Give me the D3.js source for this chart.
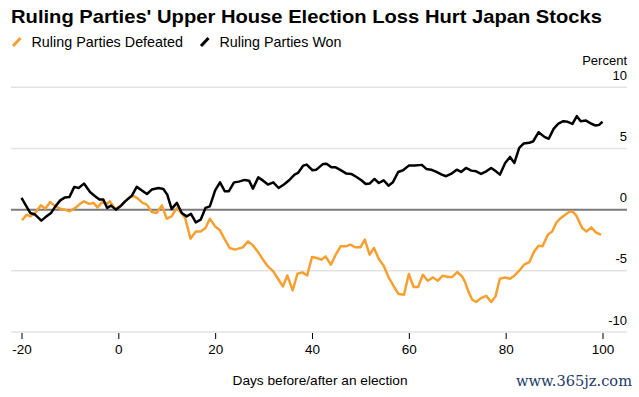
<!DOCTYPE html>
<html>
<head>
<meta charset="utf-8">
<script src="https://cdn.jsdelivr.net/npm/d3@7"></script>
<style>
  body { margin: 0; background: #fff; }
  svg { display: block; font-family: "Liberation Sans", Arial, sans-serif; }
</style>
</head>
<body>
<svg id="chart" width="639" height="397"></svg>
<script>
// Cumulative change in percent, days before/after the election
const wonDays = [-20, -18.2, -17.2, -15.9, -15.1, -13.9, -13, -12, -11, -10.1, -9.1, -8.2, -7.1, -5.8, -4.8, -3.9, -3.1, -2.3, -1.5, -0.5,
  0.4, 1.4, 2.8, 3.8, 4.8, 5.9, 6.9, 8.3, 9.3, 10.1, 11, 12.1, 13.1, 14.1, 15, 16, 17, 18, 18.9, 20,
  21, 22, 22.8, 23.9, 24.9, 26.1, 27, 27.8, 28.9, 29.9, 30.9, 32, 33.1, 34.2, 35.4, 36.4, 37.1, 38.2, 38.9, 40.1,
  40.9, 42.3, 43, 44, 44.9, 46.1, 47.1, 48.1, 49.2, 50.2, 51.1, 51.9, 52.9, 53.8, 54.8, 55.8, 56.7, 57.8, 58.8, 60,
  61.2, 62.7, 63.6, 64.6, 65.7, 66.8, 67.7, 68.7, 69.9, 70.8, 71.8, 72.9, 73.9, 74.9, 76, 77, 78, 78.8, 79.9, 80.9,
  81.8, 82.8, 83.7, 84.9, 85.7, 86.8, 88, 88.9, 89.9, 90.9, 91.9, 92.8, 93.8, 94.7, 95.5, 96.6, 97.6, 98.6, 99.3, 100];
const wonValues = [0.96, -0.27, -0.4, -0.9, -0.63, -0.27, 0.27, 0.76, 1.0, 1.04, 1.86, 1.77, 2.13, 1.42, 1.09, 0.82, 0.82, 0.14, 0.33, 0.0,
  0.27, 0.68, 1.15, 1.86, 1.58, 1.28, 1.64, 1.77, 1.69, 1.23, 0.06, 0.55, -0.27, -0.55, -0.35, -1.04, -0.82, 0.14, 0.27, 1.58,
  2.23, 1.5, 1.5, 2.23, 2.29, 2.43, 2.37, 1.72, 2.64, 2.37, 2.05, 2.23, 1.77, 2.05, 2.45, 2.86, 3.0, 3.6, 3.68, 3.22,
  3.27, 3.74, 3.76, 3.46, 3.46, 3.19, 2.95, 2.92, 2.67, 2.4, 2.1, 2.13, 2.51, 2.18, 2.4, 1.96, 2.23, 3.08, 3.22, 3.6,
  3.6, 3.66, 3.33, 3.27, 3.08, 2.86, 2.73, 2.92, 3.27, 3.08, 3.41, 3.19, 3.13, 2.92, 3.13, 3.41, 3.13, 2.86, 3.82, 4.31,
  3.82, 5.05, 5.4, 5.46, 5.59, 6.33, 5.95, 5.79, 6.6, 7.04, 7.23, 7.18, 7.01, 7.64, 7.23, 7.28, 7.04, 6.87, 6.93, 7.18];

const defeatedDays = [-19.9, -18.9, -18.2, -17.2, -16, -15.1, -14.1, -13, -12, -11, -10.1, -8.9, -7.9, -7.1, -6, -5.1, -4.3, -3.4, -2.4, -1.7,
  -0.7, 0.4, 1.4, 2.4, 3.3, 4.1, 5, 5.9, 6.9, 7.9, 9, 10, 11, 12.1, 12.9, 13.8, 14.9, 16, 17, 18,
  18.9, 20, 21, 22, 23, 24.1, 25.7, 26.8, 27.8, 28.9, 29.9, 30.9, 32, 33, 34, 34.9, 36, 37, 38, 39,
  40, 41, 41.9, 42.8, 43.9, 44.9, 45.9, 47, 47.9, 49, 50, 50.9, 51.9, 52.8, 53.8, 54.8, 55.8, 56.9, 57.9, 59,
  60, 61, 61.9, 62.9, 63.9, 65, 66, 67, 68.1, 68.9, 70, 71, 71.6, 72.3, 73.1, 73.9, 74.9, 76, 77, 77.9,
  78.8, 79.9, 80.9, 81.8, 82.8, 83.8, 84.9, 85.9, 86.8, 87.6, 88.7, 89.6, 90.5, 91.4, 92.3, 93.1, 93.8, 94.6, 95.8, 96.7,
  97.7, 98.6, 99.7];
const defeatedValues = [-0.87, -0.41, -0.55, -0.27, 0.35, 0.08, 0.63, 0.27, 0.08, 0.0, -0.14, 0.14, 0.47, 0.68, 0.47, 0.55, 0.19, 0.6, 0.47, 0.68,
  0.06, 0.27, 0.68, 1.04, 1.09, 0.88, 0.55, 0.41, -0.19, -0.27, 0.35, -0.74, -0.55, 0.14, -0.22, -0.68, -2.37, -1.78, -1.78, -1.5,
  -0.74, -1.37, -1.69, -2.45, -3.13, -3.27, -3.08, -2.59, -2.92, -3.49, -4.09, -4.64, -5.05, -5.67, -6.28, -5.38, -6.6, -5.24, -5.13, -5.38,
  -3.87, -3.95, -4.09, -3.82, -4.5, -3.68, -3.0, -3.0, -2.86, -3.08, -3.08, -2.45, -3.68, -3.13, -4.03, -4.58, -5.51, -6.28, -6.9, -6.96,
  -5.26, -6.33, -6.33, -5.32, -5.81, -5.54, -5.81, -5.4, -5.51, -5.51, -5.1, -5.46, -5.9, -6.7, -7.36, -7.55, -7.23, -7.04, -7.55, -7.09,
  -5.65, -5.54, -5.65, -5.4, -4.99, -4.5, -4.28, -3.41, -2.95, -3.0, -2.05, -1.78, -1.04, -0.68, -0.41, -0.19, -0.14, -0.49, -1.5, -1.78,
  -1.45, -1.86, -2.05];

const yTicks = [10, 5, 0, -5, -10];
const xTicks = [-20, 0, 20, 40, 60, 80, 100];

const svg = d3.select('#chart');

const x = d3.scaleLinear().domain([-20, 100]).range([21.5, 602.5]);
const y = d3.scaleLinear().domain([-10, 10]).range([332, 87.3]);

const GRID_LEFT = 11, GRID_RIGHT = 627;
const ORANGE = '#f7a031';

// --- title & legend ---
svg.append('text')
  .attr('x', 11).attr('y', 23)
  .attr('font-size', 19).attr('font-weight', 'bold')
  .attr('textLength', 591).attr('lengthAdjust', 'spacingAndGlyphs')
  .text("Ruling Parties' Upper House Election Loss Hurt Japan Stocks");

const legend = [
  { label: 'Ruling Parties Defeated', color: ORANGE, x: 13, w: 151.5 },
  { label: 'Ruling Parties Won', color: '#000', x: 201, w: 122 }
];
legend.forEach(l => {
  svg.append('line')
    .attr('x1', l.x).attr('y1', 46).attr('x2', l.x + 7.5).attr('y2', 38)
    .attr('stroke', l.color).attr('stroke-width', 3);
  svg.append('text')
    .attr('x', l.x + 18.5).attr('y', 47)
    .attr('font-size', 15)
    .attr('textLength', l.w).attr('lengthAdjust', 'spacingAndGlyphs')
    .text(l.label);
});

// --- y grid & labels ---
svg.append('text')
  .attr('x', GRID_RIGHT).attr('y', 65)
  .attr('text-anchor', 'end').attr('font-size', 13)
  .text('Percent');

yTicks.forEach(t => {
  svg.append('line')
    .attr('x1', GRID_LEFT).attr('x2', GRID_RIGHT)
    .attr('y1', y(t)).attr('y2', y(t))
    .attr('stroke', t === 0 ? '#7a7a7a' : '#e3e3e3')
    .attr('stroke-width', t === 0 ? 2 : 1.5);
  svg.append('text')
    .attr('x', GRID_RIGHT).attr('y', y(t) - 7.5)
    .attr('text-anchor', 'end').attr('font-size', 13)
    .text(t);
});

// --- x axis ---
const xAxis = svg.append('g')
  .attr('transform', `translate(0,${y(-10) + 1})`)
  .call(d3.axisBottom(x).tickValues(xTicks).tickSize(6).tickPadding(5).tickFormat(d => String(d)));
xAxis.select('.domain').remove();
xAxis.selectAll('line').attr('stroke', '#000').attr('stroke-width', 1);
xAxis.selectAll('text')
  .attr('font-size', 13.5).attr('font-family', '"Liberation Sans", Arial, sans-serif')
  .attr('fill', '#000');

svg.append('text')
  .attr('x', 320).attr('y', 385)
  .attr('text-anchor', 'middle').attr('font-size', 13.5)
  .attr('textLength', 175).attr('lengthAdjust', 'spacingAndGlyphs')
  .text('Days before/after an election');

// --- lines ---
const line = d3.line()
  .x(d => x(d[0]))
  .y(d => y(d[1]));

svg.append('path')
  .datum(d3.zip(defeatedDays, defeatedValues))
  .attr('fill', 'none')
  .attr('stroke', ORANGE)
  .attr('stroke-width', 2.5)
  .attr('stroke-linejoin', 'round')
  .attr('d', line);

svg.append('path')
  .datum(d3.zip(wonDays, wonValues))
  .attr('fill', 'none')
  .attr('stroke', '#000')
  .attr('stroke-width', 2.5)
  .attr('stroke-linejoin', 'round')
  .attr('d', line);

// watermark
svg.append('text')
  .attr('x', 516).attr('y', 386)
  .attr('font-family', '"DejaVu Serif", "Liberation Serif", serif')
  .attr('font-size', 14).attr('fill', '#233a6a')
  .attr('textLength', 116).attr('lengthAdjust', 'spacingAndGlyphs')
  .text('www.365jz.com');
</script>
</body>
</html>
